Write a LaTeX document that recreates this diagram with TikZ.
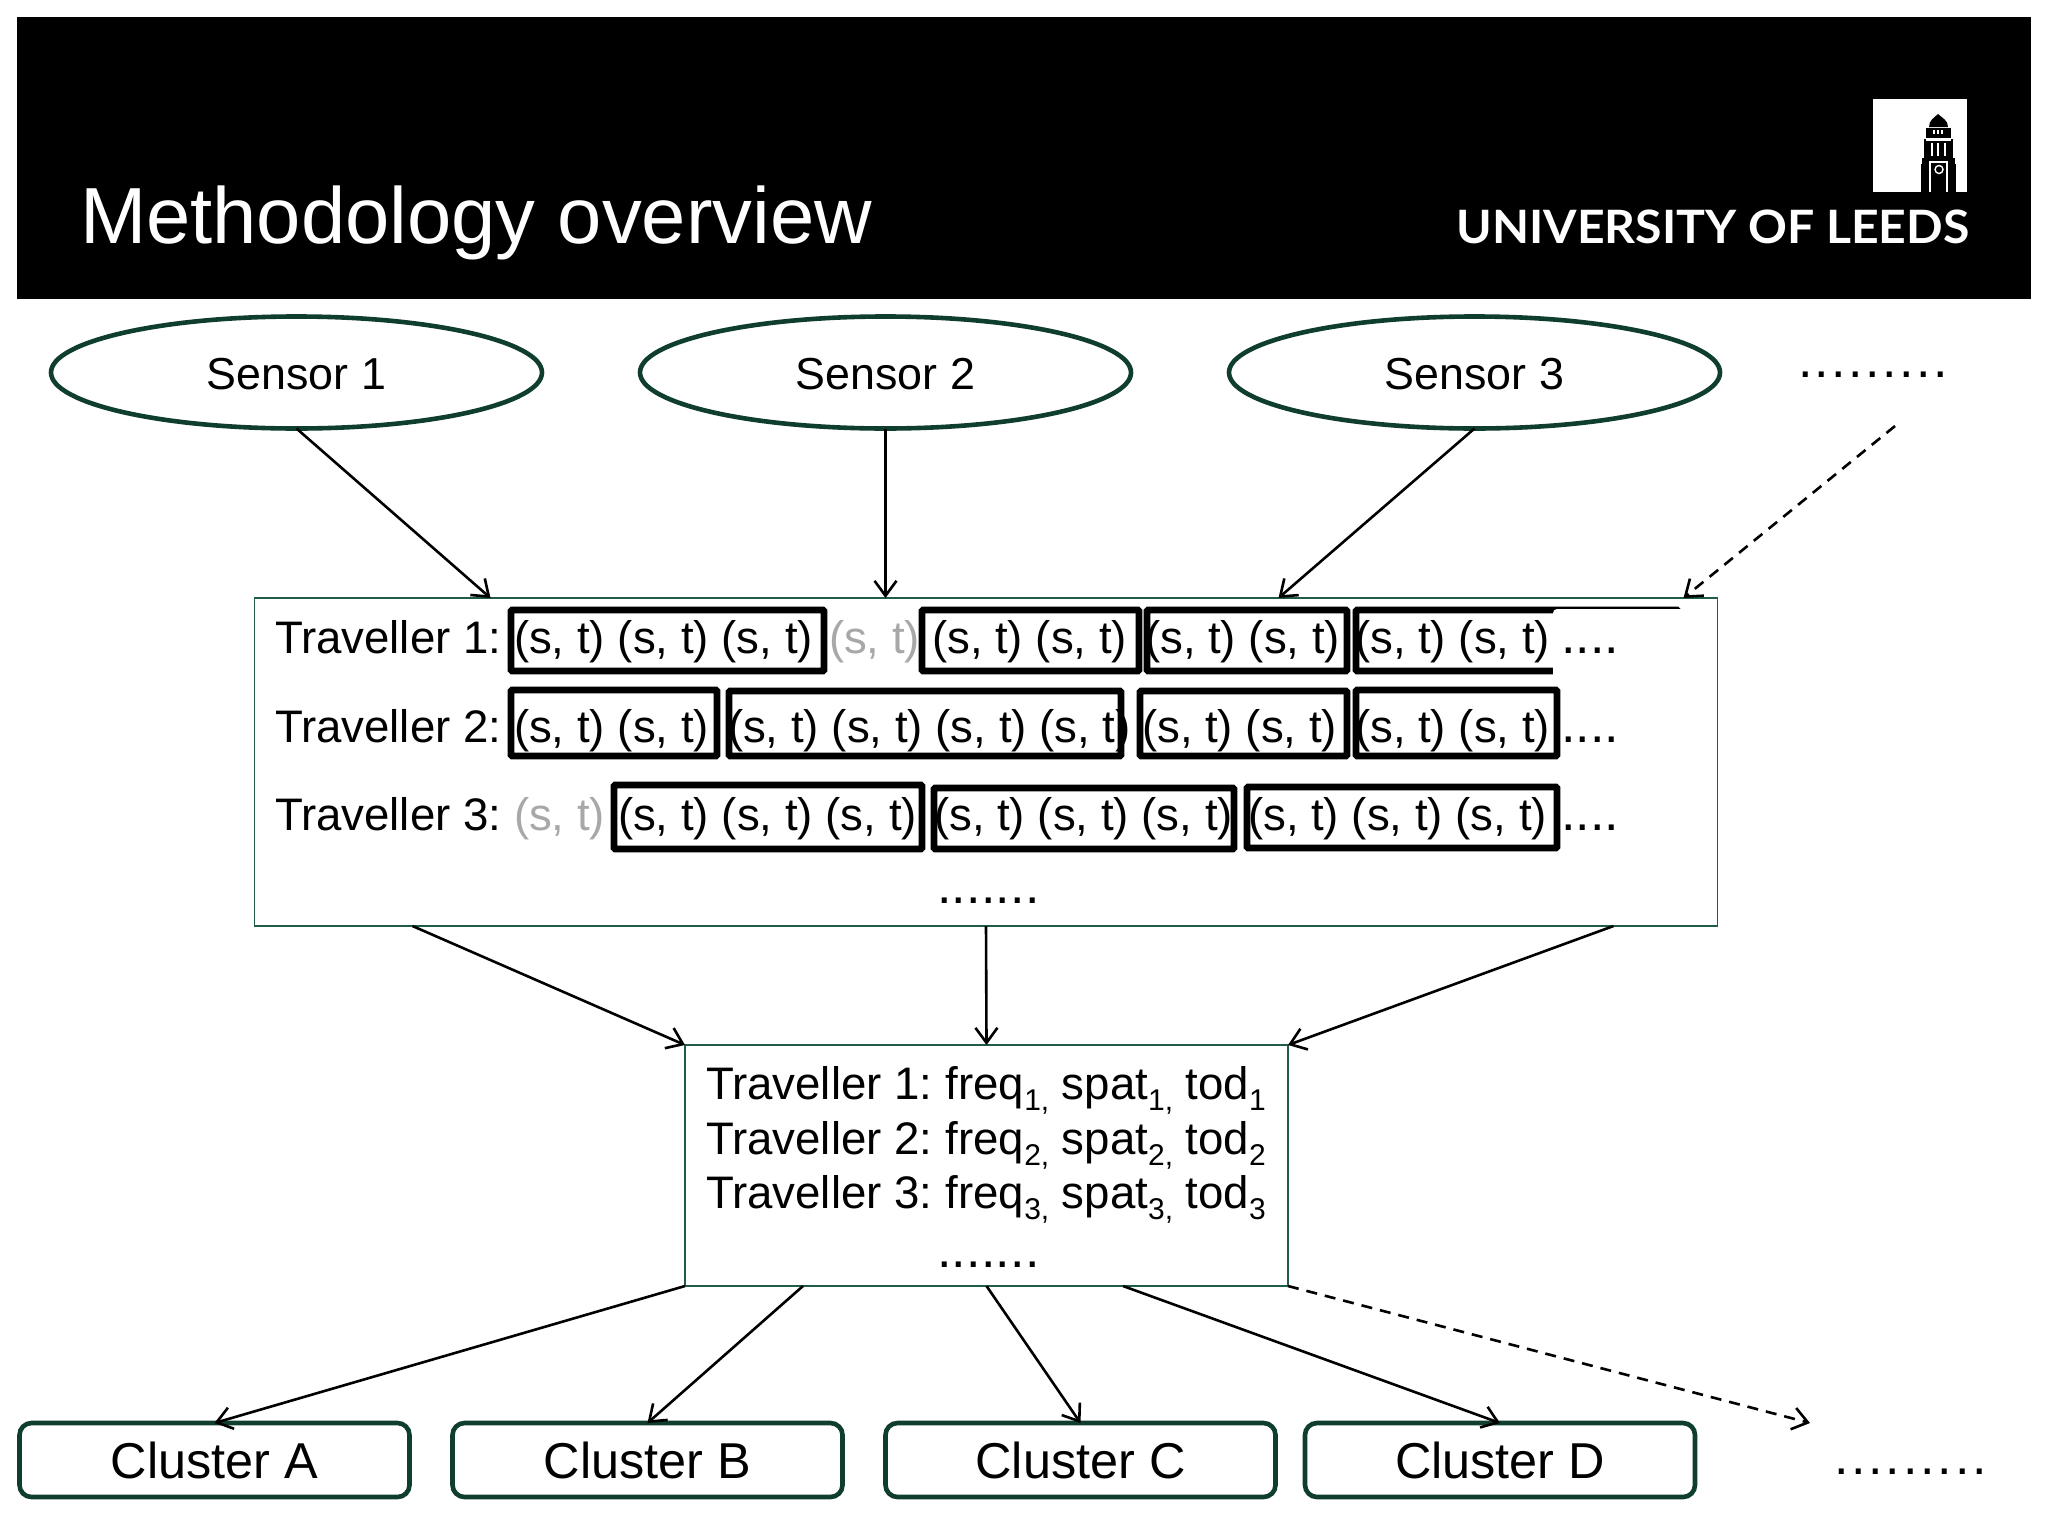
\documentclass[tikz,border=0pt]{standalone}
\usepackage{fontspec}
\setmainfont{Liberation Sans}
\newfontfamily\logofont{Lato}
\usetikzlibrary{arrows.meta,calc,shapes.geometric}
\definecolor{leedsgreen}{HTML}{0F3D2E}
\definecolor{thingreen}{HTML}{1F5C4A}
\definecolor{missgray}{HTML}{A8A8A8}
\newcommand\spdots[2]{\foreach\di in {1,...,#1}{\hbox to #2{\fontsize{26pt}{27pt}\selectfont.\hss}}}
\newcommand\sbt[1]{\raisebox{-5.5pt}{\fontsize{15pt}{17pt}\selectfont #1}}
\newcommand\one{(s, t)}
\newcommand\two{(s, t) (s, t)}
\newcommand\three{(s, t) (s, t) (s, t)}
\newcommand\four{(s, t) (s, t) (s, t) (s, t)}
\tikzset{
  x=0.5pt,y=-0.5pt,
  sensor/.style={ellipse,draw=leedsgreen,line width=2.3pt,minimum width=245.5pt,minimum height=56pt,inner sep=0pt,outer sep=0pt,font=\fontsize{22.4pt}{26pt}\selectfont,text height=16.5pt,text depth=0pt},
  cluster/.style={rectangle,rounded corners=6pt,draw=leedsgreen,line width=2.3pt,minimum width=195pt,minimum height=37pt,inner sep=0pt,outer sep=0pt,font=\fontsize{25.2pt}{30pt}\selectfont,text height=18pt,text depth=0pt},
  panel/.style={rectangle,draw=thingreen,line width=0.9pt,inner sep=0pt,outer sep=0pt},
  txt/.style={anchor=base west,inner sep=0pt,outer sep=0pt,font=\fontsize{22.8pt}{27pt}\selectfont},
  gtxt/.style={txt,text=missgray},
  tripbox/.style={draw=black,line width=3.4pt,rounded corners=0.6pt},
  conn/.style={draw=black,line width=1.3pt,-{Straight Barb[length=7.5pt,width=11pt,line width=1.3pt]}},
  dconn/.style={conn,dash pattern=on 5.5pt off 4pt},
}
\begin{document}
\begin{tikzpicture}
\useasboundingbox (0,0) rectangle (2048,1536);
\fill[white] (0,0) rectangle (2048,1536);
% header
\fill[black] (17,17) rectangle (2031,299);
\node[txt,text=white,font=\fontsize{39.8pt}{46pt}\selectfont] (title) at (80,243) {Methodology overview};
\node[anchor=base west,inner sep=0pt,text=white] (uni) at (1456,243) {\resizebox{256.5pt}{16.8pt}{\logofont\bfseries UNIVERSITY OF LEEDS}};
% logo
\fill[white] (1873,99) rectangle (1967,192);
\fill[black] (1929,127) .. controls (1929,120) and (1934,118) .. (1938,114) .. controls (1942,118) and (1948,120) .. (1948,127) -- cycle;
\fill[black] (1926,128) rectangle (1951,138);
\fill[black] (1924,139) rectangle (1953,158);
\fill[black] (1922,158) rectangle (1955,164);
\fill[black] (1921,164) rectangle (1956,192);
\draw[white,line width=0.7pt] (1930,192) -- (1930,162) -- (1947,162) -- (1947,192);
\draw[white,line width=0.7pt] (1939,169.5) circle (4);
\draw[white,line width=1.4pt] (1932,143) -- (1932,156) (1938,143) -- (1938,156) (1945,143) -- (1945,156);
\draw[white,line width=0.6pt] (1926,140) -- (1951,140);
\draw[white,line width=0.6pt] (1934,130) -- (1934,134) (1938,130) -- (1938,134) (1942,130) -- (1942,134);
% sensors
\node[sensor] (s1) at (296.5,372.5) {Sensor 1};
\node[sensor] (s2) at (885.5,372.5) {Sensor 2};
\node[sensor] (s3) at (1474.5,372.5) {Sensor 3};
\node[txt] (sdots) at (1798,377) {\spdots{9}{8.45pt}};
\coordinate (dashstart) at (1895,426);
% traveller panel
\node[panel,minimum width=731.5pt,minimum height=164pt,anchor=north west] (tbox) at (254.5,598) {};
% trip boxes
\draw[tripbox] (511,610) rectangle (824,671);
\draw[tripbox] (922,610) rectangle (1139,671);
\draw[tripbox] (1147,610) rectangle (1347,671);
\draw[tripbox] (1356,610) rectangle (1678,671);
\fill[white,rounded corners=2pt] (1553,609) rectangle (1690,680);
\draw[tripbox] (511,690) rectangle (717,756);
\draw[tripbox] (729,691) rectangle (1121,756);
\draw[tripbox] (1140,691) rectangle (1347,756);
\draw[tripbox] (1356,690) rectangle (1557,756);
\draw[tripbox] (614,785) rectangle (922,849);
\draw[tripbox] (934,788) rectangle (1234,849);
\draw[tripbox] (1247,787) rectangle (1557,848);
% row 1
\node[txt] (t1) at (275,653) {Traveller 1:};
\node[txt] (r1a) at (514,653) {\three};
\node[gtxt] (r1b) at (829,653) {\one};
\node[txt] (r1c) at (932,653) {\two};
\node[txt] (r1d) at (1145,653) {\two};
\node[txt] (r1e) at (1355,653) {\two};
\node[txt] (r1f) at (1561,653) {\spdots{4}{7.3pt}};
% row 2
\node[txt] (t2) at (275,742) {Traveller 2:};
\node[txt] (r2a) at (514,742) {\two};
\node[txt] (r2b) at (728,742) {\four};
\node[txt] (r2c) at (1142,742) {\two};
\node[txt] (r2d) at (1355,742) {\two};
\node[txt] (r2e) at (1561,742) {\spdots{4}{7.3pt}};
% row 3
\node[txt] (t3) at (275,830) {Traveller 3:};
\node[gtxt] (r3a) at (514,830) {\one};
\node[txt] (r3b) at (618,830) {\three};
\node[txt] (r3c) at (934,830) {\three};
\node[txt] (r3d) at (1248,830) {\three};
\node[txt] (r3e) at (1561,830) {\spdots{4}{7.3pt}};
\node[txt] (tdots) at (937,903) {\spdots{7}{7.35pt}};
% features panel
\node[panel,minimum width=301.5pt,minimum height=120.5pt,anchor=north west] (fbox) at (685,1045) {};
\node[txt] (f1) at (706,1099) {Traveller 1:\hspace{-1.8pt} freq\sbt{1,} spat\sbt{1,} tod\sbt{1}};
\node[txt] (f2) at (706,1154) {Traveller 2:\hspace{-1.8pt} freq\sbt{2,} spat\sbt{2,} tod\sbt{2}};
\node[txt] (f3) at (706,1208) {Traveller 3:\hspace{-1.8pt} freq\sbt{3,} spat\sbt{3,} tod\sbt{3}};
\node[txt] (fdots) at (937,1267) {\spdots{7}{7.35pt}};
% clusters
\node[cluster] (ca) at (214.5,1460) {Cluster A};
\node[cluster] (cb) at (647.5,1460) {Cluster B};
\node[cluster] (cc) at (1080.5,1460) {Cluster C};
\node[cluster] (cd) at (1500,1460) {Cluster D};
\node[txt] (cdots) at (1834,1474) {\spdots{9}{8.65pt}};
\coordinate (dashend) at (1810,1423);
% connectors
\draw[conn] (s1.south) -- ($(tbox.north west)+(236,0)$);
\draw[conn] (s2.south) -- (s2.south |- tbox.north);
\draw[conn] (s3.south) -- ($(tbox.north west)+(1024,0)$);
\draw[dconn] (dashstart) -- ($(tbox.north west)+(1429,0)$);
\draw[conn] ($(tbox.south west)+(158,0)$) -- (fbox.north west);
\draw[conn] (tbox.south) -- (fbox.north);
\draw[conn] ($(tbox.south west)+(1359,0)$) -- (fbox.north east);
\draw[conn] (fbox.south west) -- (ca.north);
\draw[conn] ($(fbox.south west)+(118,0)$) -- (cb.north);
\draw[conn] (fbox.south) -- (cc.north);
\draw[conn] ($(fbox.south west)+(438,0)$) -- (cd.north);
\draw[dconn] (fbox.south east) -- (dashend);
\end{tikzpicture}
\end{document}
